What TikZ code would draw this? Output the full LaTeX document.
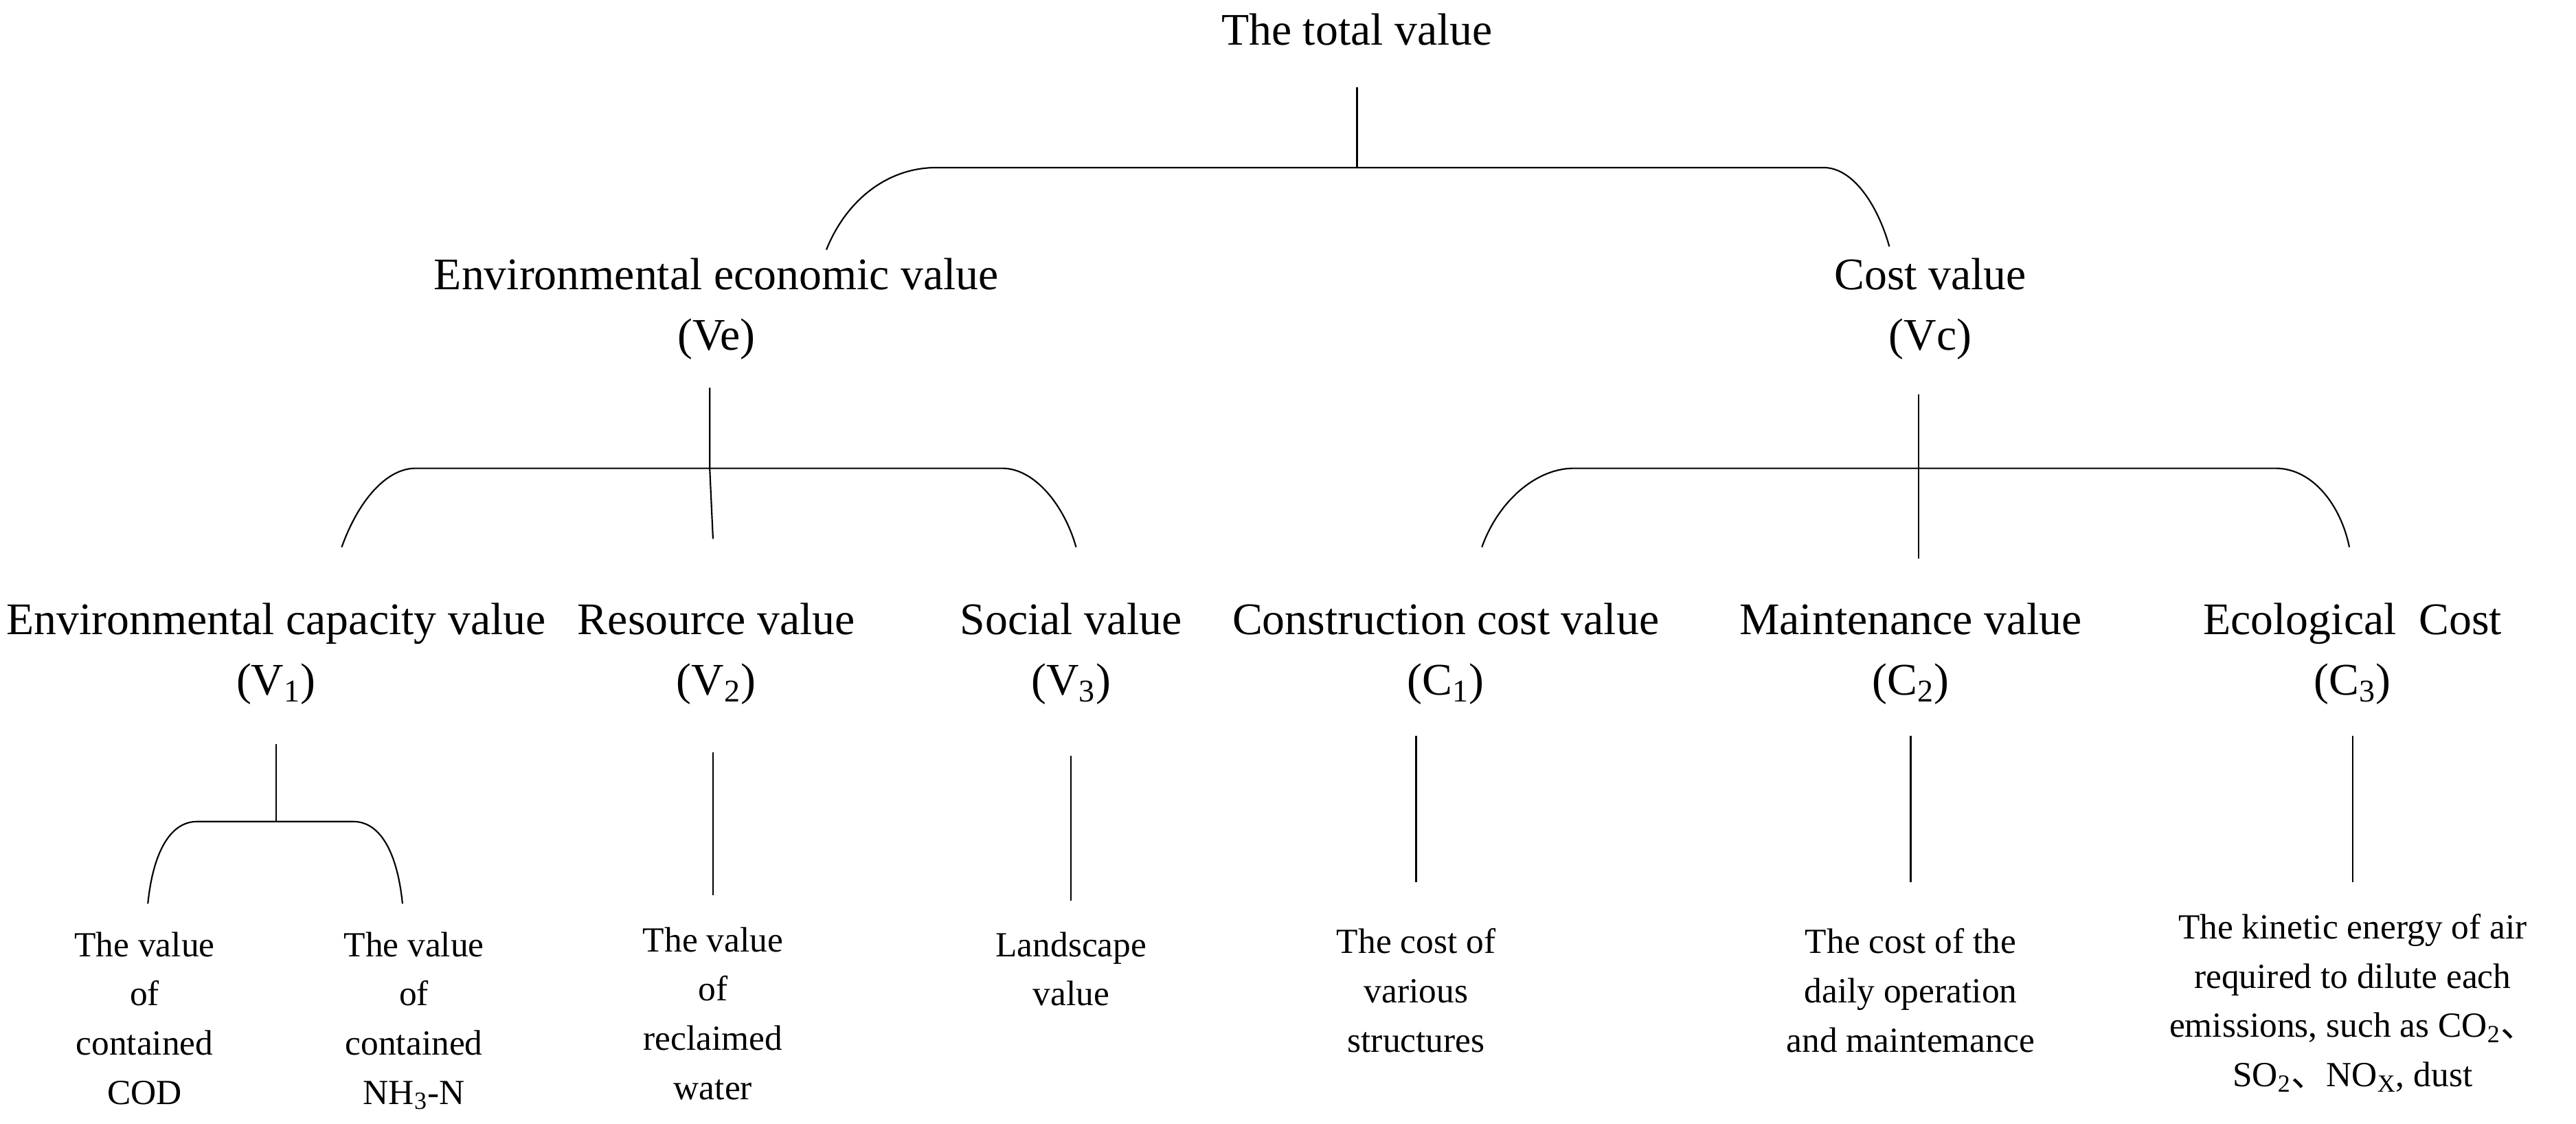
\documentclass[tikz,border=0pt]{standalone}
\usepackage{fontspec}
\setmainfont{Liberation Serif}
\newfontfamily\cjk{Noto Sans CJK SC}
\newcommand{\dun}{{\cjk 、}}
\begin{document}
\begin{tikzpicture}[x=1pt,y=-1pt,
  big/.style={font=\fontsize{27.5}{37}\selectfont,align=center,inner sep=0pt},
  small/.style={font=\fontsize{21.5}{30}\selectfont,align=center,inner sep=0pt,anchor=north},
  ln/.style={line width=0.9pt}]
\useasboundingbox (0,0) rectangle (1568,684);
\node[big] (tot) at (826,18) {The total value};
\node[big] (ve) at (436,188) {Environmental economic value\\(Ve)};
\node[big] (vc) at (1175,188) {Cost value\\(Vc)};
\node[big] (v1) at (168,398) {Environmental capacity value\\(V\textsubscript{1})};
\node[big] (v2) at (436,398) {Resource value\\(V\textsubscript{2})};
\node[big] (v3) at (652,398) {Social value\\(V\textsubscript{3})};
\node[big] (c1) at (880,398) {Construction cost value\\(C\textsubscript{1})};
\node[big] (c2) at (1163,398) {Maintenance value\\(C\textsubscript{2})};
\node[big] (c3) at (1432,398) {Ecological\ \ Cost\\(C\textsubscript{3})};
\node[small] (b1) at (88,567) {The value\\of\\contained\\COD};
\node[small] (b2) at (252,567) {The value\\of\\contained\\NH\textsubscript{3}-N};
\node[small] (b3) at (434,564) {The value\\of\\reclaimed\\water};
\node[small] (b4) at (652,567) {Landscape\\value};
\node[small] (b5) at (862,565) {The cost of\\various\\structures};
\node[small] (b6) at (1163,565) {The cost of the\\daily operation\\and maintemance};
\node[small] (b7) at (1432,556) {The kinetic energy of air\\required to dilute each\\emissions, such as CO\textsubscript{2}\dun\\SO\textsubscript{2}\dun NO\textsubscript{X}, dust};
% top
\coordinate (t1) at (826,53); \coordinate (t2) at (826,102);
\draw[ln] (t1) -- (t2);
\draw[ln] (503,152) .. controls (515,122) and (540,102) .. (570,102) -- (1110,102) .. controls (1128,102) and (1143,125) .. (1150,150);
% Ve
\draw[ln] (432,236) -- (432,285) -- (434,328);
\draw[ln] (208,333) .. controls (218,305) and (235,285) .. (253,285) -- (610,285) .. controls (630,285) and (648,308) .. (655,333);
% Vc
\draw[ln] (1168,240) -- (1168,340);
\draw[ln] (902,333) .. controls (912,305) and (935,285) .. (958,285) -- (1385,285) .. controls (1408,285) and (1425,308) .. (1430,333);
% V1
\draw[ln] (168,453) -- (168,500);
\draw[ln] (90,550) .. controls (93,520) and (103,500) .. (120,500) -- (215,500) .. controls (232,500) and (242,520) .. (245,550);
% others
\draw[ln] (434,458) -- (434,545);
\draw[ln] (652,460) -- (652,548);
\draw[ln] (862,448) -- (862,537);
\draw[ln] (1163,448) -- (1163,537);
\draw[ln] (1432,448) -- (1432,537);
\end{tikzpicture}
\end{document}
